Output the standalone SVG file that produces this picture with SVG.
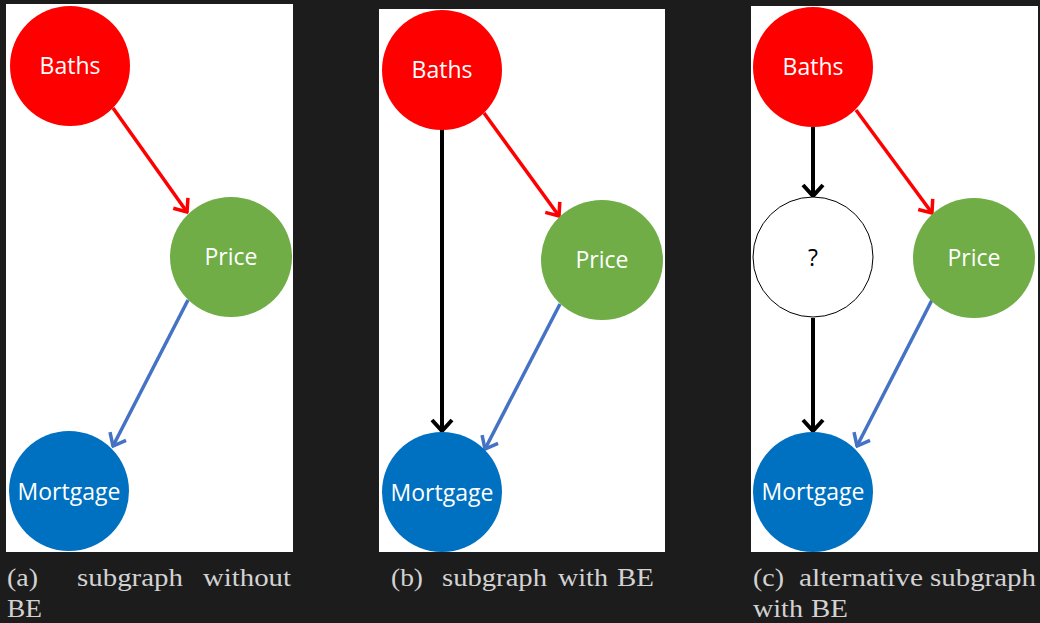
<svg xmlns="http://www.w3.org/2000/svg" width="1040" height="623" viewBox="0 0 1040 623">
  <defs>
    <style>
      .panel { fill: #ffffff; }
      .lbl { font-family: "Open Sans", "Liberation Sans", sans-serif; font-size: 23px; text-anchor: middle; fill: #ffffff; }
      .lbl-dark { fill: #000000; }
      .cap { font-family: "Liberation Serif", "DejaVu Serif", serif; font-size: 25px; fill: #d2d2d2; }
      .edge { fill: none; stroke-width: 3.5; }
      .red { stroke: #ff0000; marker-end: url(#headRed); }
      .blue { stroke: #4472c4; marker-end: url(#headBlue); }
      .black { stroke: #000000; stroke-width: 4; marker-end: url(#headBlack); }
      .baths { fill: #ff0000; }
      .price { fill: #70ad47; }
      .mortgage { fill: #0070c0; }
      .hidden { fill: #ffffff; stroke: #000000; stroke-width: 1; }
    </style>
    <marker id="headRed" markerUnits="userSpaceOnUse" viewBox="-14 -12 16 24" markerWidth="16" markerHeight="24" refX="0" refY="0" orient="auto">
      <path d="M-11,-9 L0,0 L-11,9" fill="none" stroke="#ff0000" stroke-width="3.5"/>
    </marker>
    <marker id="headBlue" markerUnits="userSpaceOnUse" viewBox="-14 -12 16 24" markerWidth="16" markerHeight="24" refX="0" refY="0" orient="auto">
      <path d="M-11,-9 L0,0 L-11,9" fill="none" stroke="#4472c4" stroke-width="3.5"/>
    </marker>
    <marker id="headBlack" markerUnits="userSpaceOnUse" viewBox="-14 -12 16 24" markerWidth="16" markerHeight="24" refX="0" refY="0" orient="auto">
      <path d="M-11,-10 L0,0 L-11,10" fill="none" stroke="#000000" stroke-width="4"/>
    </marker>
  </defs>

  <!-- page background and panel cards -->
  <rect x="0" y="0" width="1040" height="623" fill="#1c1c1c"/>
  <rect class="panel" x="6" y="4" width="287" height="548"/>
  <rect class="panel" x="379" y="9" width="286" height="543"/>
  <rect class="panel" x="751" y="6" width="287" height="546"/>

  <!-- connectors -->
  <g id="connectors">
    <!-- panel a -->
    <line class="edge red" x1="113" y1="108" x2="187" y2="212"/>
    <line class="edge blue" x1="188" y1="300" x2="113" y2="446"/>
    <!-- panel b -->
    <line class="edge black" x1="442" y1="129" x2="442" y2="431"/>
    <line class="edge red" x1="484" y1="113" x2="559" y2="216"/>
    <line class="edge blue" x1="560" y1="304" x2="485" y2="449"/>
    <!-- panel c -->
    <line class="edge black" x1="813" y1="127" x2="813" y2="196"/>
    <line class="edge black" x1="813" y1="318" x2="813" y2="431"/>
    <line class="edge red" x1="856" y1="110" x2="932" y2="213"/>
    <line class="edge blue" x1="932" y1="300" x2="857" y2="446"/>
  </g>

  <!-- panel a nodes -->
  <g id="a-baths">
    <ellipse class="baths" cx="70" cy="66" rx="60" ry="60"/>
    <text class="lbl" x="70" y="74">Baths</text>
  </g>
  <g id="a-price">
    <ellipse class="price" cx="231" cy="257" rx="61" ry="60"/>
    <text class="lbl" x="231" y="265">Price</text>
  </g>
  <g id="a-mortgage">
    <ellipse class="mortgage" cx="69" cy="491" rx="60" ry="60"/>
    <text class="lbl" x="69" y="500">Mortgage</text>
  </g>

  <!-- panel b nodes -->
  <g id="b-baths">
    <ellipse class="baths" cx="442" cy="70" rx="60" ry="60"/>
    <text class="lbl" x="442" y="78">Baths</text>
  </g>
  <g id="b-price">
    <ellipse class="price" cx="602" cy="260" rx="61" ry="60"/>
    <text class="lbl" x="602" y="268">Price</text>
  </g>
  <g id="b-mortgage">
    <ellipse class="mortgage" cx="442" cy="492" rx="60" ry="60"/>
    <text class="lbl" x="442" y="501">Mortgage</text>
  </g>

  <!-- panel c nodes -->
  <g id="c-baths">
    <ellipse class="baths" cx="813" cy="67" rx="60" ry="60"/>
    <text class="lbl" x="813" y="75">Baths</text>
  </g>
  <g id="c-hidden">
    <ellipse class="hidden" cx="813" cy="257" rx="60" ry="60"/>
    <text class="lbl lbl-dark" x="813" y="266">?</text>
  </g>
  <g id="c-price">
    <ellipse class="price" cx="974" cy="258" rx="61" ry="60"/>
    <text class="lbl" x="974" y="266">Price</text>
  </g>
  <g id="c-mortgage">
    <ellipse class="mortgage" cx="813" cy="492" rx="60" ry="60"/>
    <text class="lbl" x="813" y="500">Mortgage</text>
  </g>

  <!-- captions -->
  <g id="captions">
    <text class="cap" x="7" y="586" textLength="31" lengthAdjust="spacingAndGlyphs">(a)</text>
    <text class="cap" x="77" y="586" textLength="106" lengthAdjust="spacingAndGlyphs">subgraph</text>
    <text class="cap" x="203" y="586" textLength="88" lengthAdjust="spacingAndGlyphs">without</text>
    <text class="cap" x="7" y="617" textLength="35" lengthAdjust="spacingAndGlyphs">BE</text>

    <text class="cap" x="391" y="586" textLength="32" lengthAdjust="spacingAndGlyphs">(b)</text>
    <text class="cap" x="442" y="586" textLength="105" lengthAdjust="spacingAndGlyphs">subgraph</text>
    <text class="cap" x="558" y="586" textLength="50" lengthAdjust="spacingAndGlyphs">with</text>
    <text class="cap" x="617" y="586" textLength="37" lengthAdjust="spacingAndGlyphs">BE</text>

    <text class="cap" x="753" y="586" textLength="31" lengthAdjust="spacingAndGlyphs">(c)</text>
    <text class="cap" x="799" y="586" textLength="124" lengthAdjust="spacingAndGlyphs">alternative</text>
    <text class="cap" x="930" y="586" textLength="106" lengthAdjust="spacingAndGlyphs">subgraph</text>
    <text class="cap" x="753" y="617" textLength="50" lengthAdjust="spacingAndGlyphs">with</text>
    <text class="cap" x="811" y="617" textLength="37" lengthAdjust="spacingAndGlyphs">BE</text>
  </g>
</svg>
